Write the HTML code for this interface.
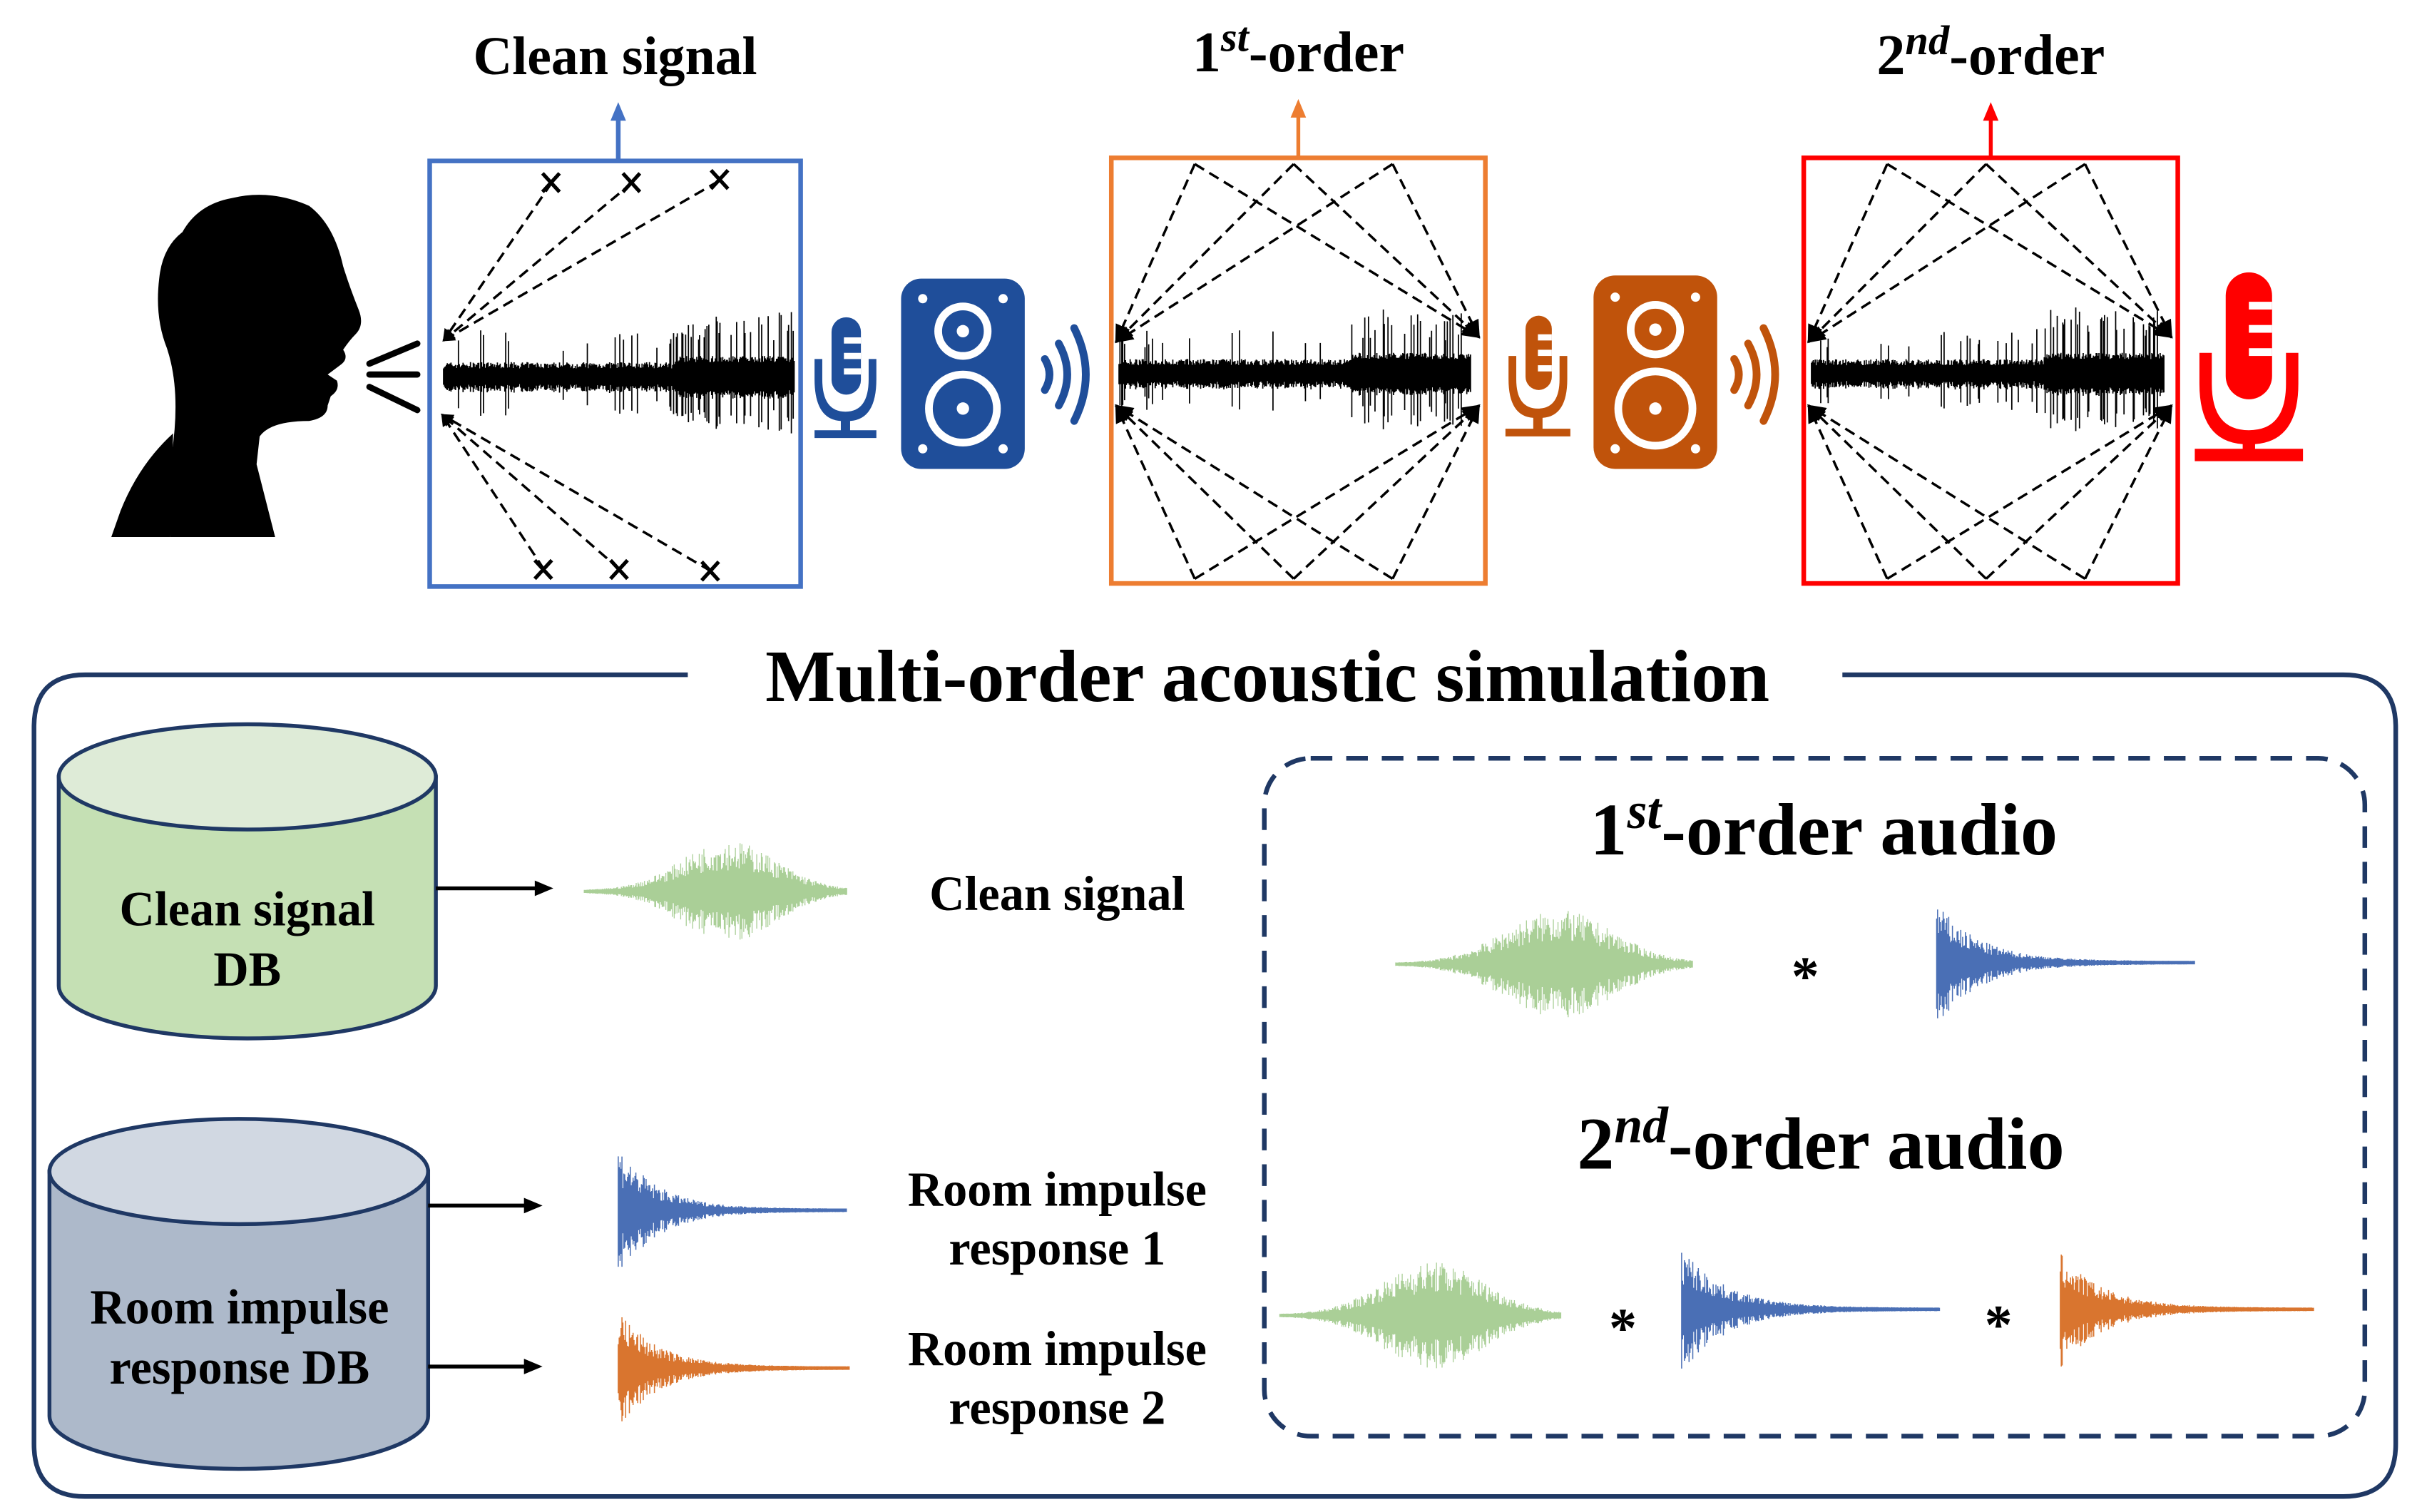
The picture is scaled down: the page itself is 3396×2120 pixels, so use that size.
<!DOCTYPE html>
<html><head><meta charset="utf-8">
<style>
html,body{margin:0;padding:0;background:#fff;}
svg{display:block;}
text{font-family:"Liberation Serif",serif;font-weight:bold;fill:#000;}
</style></head>
<body>
<svg id="s" width="3396" height="2120" viewBox="0 0 1567 977" preserveAspectRatio="none" xmlns="http://www.w3.org/2000/svg">
<defs>
<marker id="ah" markerWidth="8" markerHeight="8" refX="7" refY="4" orient="auto" markerUnits="userSpaceOnUse"><path d="M0,0 L8,4 L0,8 z" fill="#000"/></marker>
<marker id="ahs" markerWidth="12" markerHeight="10" refX="11" refY="5" orient="auto" markerUnits="userSpaceOnUse"><path d="M0,0 L12,5 L0,10 z" fill="#000"/></marker>
</defs>
<rect width="1567" height="977" fill="#fff"/>

<!-- titles -->
<text x="398" y="48" font-size="35" text-anchor="middle">Clean signal</text>
<text x="840" y="46" font-size="37" text-anchor="middle">1<tspan font-style="italic" font-size="27" dy="-13">st</tspan><tspan dy="13">-order</tspan></text>
<text x="1288" y="48" font-size="37" text-anchor="middle">2<tspan font-style="italic" font-size="27" dy="-13">nd</tspan><tspan dy="13">-order</tspan></text>

<!-- up arrows -->
<line x1="400" y1="104" x2="400" y2="76" stroke="#4472C4" stroke-width="3"/><path d="M395,78 L400,66 L405,78 z" fill="#4472C4"/>
<line x1="840" y1="102" x2="840" y2="74" stroke="#ED7D31" stroke-width="2.5"/><path d="M835,76 L840,64 L845,76 z" fill="#ED7D31"/>
<line x1="1288" y1="102" x2="1288" y2="76" stroke="#FF0000" stroke-width="2.5"/><path d="M1283,78 L1288,66 L1293,78 z" fill="#FF0000"/>

<!-- head -->
<path d="M110,347 L178,347 L166,300 L168,282 Q175,272 200,272 Q212,270 212,262 L214,256 Q220,252 218,246 L212,242 L220,236 Q226,232 222,226 Q226,220 230,216 Q236,210 232,200 Q226,185 222,172 Q216,145 200,133 Q175,122 150,128 Q128,132 118,150 Q105,160 103,180 Q100,205 108,225 Q118,255 110,300 Z" fill="#000"/>
<path d="M72,347 L110,347 L112,280 Q90,300 78,330 Z" fill="#000"/>
<g stroke="#000" stroke-width="4" stroke-linecap="round">
<line x1="239" y1="235" x2="270" y2="222"/>
<line x1="239" y1="242" x2="270" y2="242"/>
<line x1="239" y1="250" x2="270" y2="265"/>
</g>

<!-- boxes -->
<rect x="278" y="104" width="240" height="275" fill="none" stroke="#4472C4" stroke-width="3"/>
<rect x="719" y="102" width="242" height="275" fill="none" stroke="#ED7D31" stroke-width="3"/>
<rect x="1167" y="102" width="242" height="275" fill="none" stroke="#FF0000" stroke-width="3"/>

<g id="waves"></g>

<!-- blue box dashed -->
<g stroke="#000" stroke-width="1.6" stroke-dasharray="7,4" fill="none">
<line x1="357" y1="118" x2="287" y2="220" marker-end="url(#ah)"/>
<line x1="409" y1="118" x2="287" y2="220" marker-end="url(#ah)"/>
<line x1="465" y1="117" x2="287" y2="220" marker-end="url(#ah)"/>
<line x1="352" y1="368" x2="286" y2="268" marker-end="url(#ah)"/>
<line x1="401" y1="368" x2="286" y2="268" marker-end="url(#ah)"/>
<line x1="460" y1="369" x2="286" y2="268" marker-end="url(#ah)"/>
</g>
<g stroke="#000" stroke-width="2.4" fill="none">
<path d="M351,112 l11,12 M362,112 l-11,12 M403,112 l11,12 M414,112 l-11,12 M460,110 l11,12 M471,110 l-11,12"/>
<path d="M346,362 l11,12 M357,362 l-11,12 M395,362 l11,12 M406,362 l-11,12 M454,363 l11,12 M465,363 l-11,12"/>
</g>
<g id="fans" stroke="#000" stroke-width="1.6" stroke-dasharray="7,4" fill="none"></g>

<!-- blue mic & speaker -->
<g fill="#1F4E9A" stroke="none">
<rect x="538" y="205" width="19" height="50" rx="9.5"/>
<path d="M527,232 L532,232 L532,245 Q532,266 547,266 Q562,266 562,245 L562,232 L567,232 L567,245 Q567,271 550,272 L550,278 L567,278 L567,283 L527,283 L527,278 L544,278 L544,272 Q527,271 527,245 Z"/>
<rect x="583" y="180" width="80" height="123" rx="13"/>
</g>
<g fill="#fff"><rect x="546" y="218" width="11" height="4"/><rect x="546" y="228" width="11" height="4"/><rect x="546" y="238" width="11" height="4"/></g>
<g fill="none" stroke="#fff" stroke-width="5"><circle cx="623" cy="214" r="16"/><circle cx="623" cy="264" r="22"/></g>
<g fill="#fff"><circle cx="623" cy="214" r="4"/><circle cx="623" cy="264" r="4"/><circle cx="597" cy="193" r="3"/><circle cx="649" cy="193" r="3"/><circle cx="597" cy="290" r="3"/><circle cx="649" cy="290" r="3"/></g>
<g fill="none" stroke="#1F4E9A" stroke-width="5" stroke-linecap="round">
<path d="M676,232 Q682,242 676,252"/><path d="M685,222 Q696,242 685,262"/><path d="M695,212 Q710,242 695,272"/>
</g>

<!-- orange mic & speaker -->
<g fill="#C0530B">
<rect x="987" y="204" width="17" height="48" rx="8.5"/>
<path d="M976,230 L981,230 L981,245 Q981,264 995,264 Q1009,264 1009,245 L1009,230 L1014,230 L1014,245 Q1014,269 998,270 L998,277 L1016,277 L1016,282 L974,282 L974,277 L992,277 L992,270 Q976,269 976,245 Z"/>
<rect x="1031" y="178" width="80" height="125" rx="14"/>
</g>
<g fill="#fff"><rect x="995" y="216" width="9" height="4"/><rect x="995" y="226" width="9" height="4"/><rect x="995" y="236" width="9" height="4"/></g>
<g fill="none" stroke="#fff" stroke-width="5"><circle cx="1071" cy="213" r="16"/><circle cx="1071" cy="264" r="24"/></g>
<g fill="#fff"><circle cx="1071" cy="213" r="4"/><circle cx="1071" cy="264" r="4"/><circle cx="1045" cy="192" r="3"/><circle cx="1097" cy="192" r="3"/><circle cx="1045" cy="290" r="3"/><circle cx="1097" cy="290" r="3"/></g>
<g fill="none" stroke="#C0530B" stroke-width="5" stroke-linecap="round">
<path d="M1122,232 Q1128,242 1122,252"/><path d="M1131,222 Q1142,242 1131,262"/><path d="M1141,212 Q1156,242 1141,272"/>
</g>

<!-- red mic -->
<g fill="#FF0000">
<rect x="1440" y="176" width="30" height="82" rx="15"/>
<path d="M1423,228 L1431,228 L1431,248 Q1431,278 1455,278 Q1479,278 1479,248 L1479,228 L1487,228 L1487,248 Q1487,285 1459,287 L1459,290 L1490,290 L1490,298 L1420,298 L1420,290 L1451,290 L1451,287 Q1423,285 1423,248 Z"/>
</g>
<g fill="#fff"><rect x="1455" y="195" width="15" height="5"/><rect x="1455" y="210" width="15" height="5"/><rect x="1455" y="225" width="15" height="5"/></g>

<!-- bottom panel -->
<path d="M445,436 L55,436 Q22,436 22,470 L22,933 Q22,967 55,967 L1516,967 Q1550,967 1550,933 L1550,470 Q1550,436 1516,436 L1192,436" fill="none" stroke="#1F3864" stroke-width="3"/>
<text x="820" y="453" font-size="48" text-anchor="middle">Multi-order acoustic simulation</text>

<!-- green cylinder -->
<path d="M38,502 L38,637 A122,34 0 0 0 282,637 L282,502 Z" fill="#C5E0B4" stroke="#1F3864" stroke-width="2.5"/>
<ellipse cx="160" cy="502" rx="122" ry="34" fill="#DEEBD7" stroke="#1F3864" stroke-width="2.5"/>
<text x="160" y="598" font-size="31.5" text-anchor="middle">Clean signal</text>
<text x="160" y="637" font-size="31.5" text-anchor="middle">DB</text>

<!-- gray cylinder -->
<path d="M32,757 L32,915 A122,34 0 0 0 277,915 L277,757 Z" fill="#ADB9CA" stroke="#1F3864" stroke-width="2.5"/>
<ellipse cx="154.5" cy="757" rx="122.5" ry="34" fill="#D1D8E2" stroke="#1F3864" stroke-width="2.5"/>
<text x="155" y="855" font-size="31.5" text-anchor="middle">Room impulse</text>
<text x="155" y="894" font-size="31.5" text-anchor="middle">response DB</text>

<g stroke="#000" stroke-width="2.5">
<line x1="282" y1="574" x2="350" y2="574"/><line x1="277" y1="779" x2="343" y2="779"/><line x1="277" y1="883" x2="343" y2="883"/>
</g>
<g fill="#000"><path d="M346,569 L358,574 L346,579 z"/><path d="M339,774 L351,779 L339,784 z"/><path d="M339,878 L351,883 L339,888 z"/></g>

<text x="684" y="588" font-size="31.5" text-anchor="middle">Clean signal</text>
<text x="684" y="779" font-size="31.5" text-anchor="middle">Room impulse</text>
<text x="684" y="817" font-size="31.5" text-anchor="middle">response 1</text>
<text x="684" y="882" font-size="31.5" text-anchor="middle">Room impulse</text>
<text x="684" y="920" font-size="31.5" text-anchor="middle">response 2</text>

<rect x="818" y="490" width="712" height="438" rx="30" fill="none" stroke="#1F3864" stroke-width="3" stroke-dasharray="14,9"/>
<text x="1180" y="552" font-size="48" text-anchor="middle">1<tspan font-size="33" font-style="italic" dy="-17">st</tspan><tspan dy="17">-order audio</tspan></text>
<text x="1178" y="755" font-size="48" text-anchor="middle">2<tspan font-size="33" font-style="italic" dy="-17">nd</tspan><tspan dy="17">-order audio</tspan></text>
<text x="1168" y="643" font-size="36" text-anchor="middle">*</text>
<text x="1050" y="870" font-size="36" text-anchor="middle">*</text>
<text x="1293" y="868" font-size="36" text-anchor="middle">*</text>
</svg>
<script>
(function(){
var NS="http://www.w3.org/2000/svg";
var seed=7;function r(){seed=(seed*16807)%2147483647;return seed/2147483647;}
var W=document.getElementById('waves');
function add(d,c,sw,op){var p=document.createElementNS(NS,'path');p.setAttribute('d',d);p.setAttribute('stroke',c);p.setAttribute('stroke-width',sw);p.setAttribute('fill','none');if(op)p.setAttribute('opacity',op);W.appendChild(p);}
function speech(x0,x1,cy){var d='';for(var x=x0;x<=x1;x+=0.6){var t=(x-x0)/(x1-x0);var base=5+4*r();var sp=r()<0.06?10+12*r():0;if(t>0.66)sp=r()<0.15?14+16*r():sp;base+=(t>0.66?4:0);var up=base+sp,dn=base+sp*0.8+2*r();d+='M'+x.toFixed(1)+','+(cy-up).toFixed(1)+'L'+x.toFixed(1)+','+(cy+dn).toFixed(1);}add(d,'#000',0.8);}
speech(287,514,243);speech(724,952,241);speech(1172,1400,241);
function green(x0,x1,cy,A){var d='';var m=(x0+x1)/2+ (x1-x0)*0.05;var s=(x1-x0)/5.5;for(var x=x0;x<=x1;x+=0.6){var e=Math.exp(-Math.pow((x-m)/s,2)/2);var a=A*e*(0.4+0.6*r())+0.8;d+='M'+x.toFixed(1)+','+(cy-a).toFixed(1)+'L'+x.toFixed(1)+','+(cy+a).toFixed(1);}add(d,'#8DBF74',0.6,0.75);}
green(378,548,576,32);green(903,1095,623,34);green(828,1010,850,34);
function rir(x0,x1,cy,A,c){var d='';for(var x=x0;x<=x1;x+=0.6){var t=(x-x0)/(x1-x0);var a=A*Math.exp(-t*6)*(0.35+0.65*r())+1;d+='M'+x.toFixed(1)+','+(cy-a).toFixed(1)+'L'+x.toFixed(1)+','+(cy+a*1.05).toFixed(1);}add(d,c,0.7);}
rir(400,548,782,42,'#4A6FB5');rir(400,550,884,38,'#D9752F');rir(1253,1420,622,38,'#4A6FB5');rir(1088,1255,846,40,'#4A6FB5');rir(1333,1497,846,36,'#D9752F');
var F=document.getElementById('fans');
function ln(x1,y1,x2,y2){var l=document.createElementNS(NS,'line');l.setAttribute('x1',x1);l.setAttribute('y1',y1);l.setAttribute('x2',x2);l.setAttribute('y2',y2);l.setAttribute('marker-end','url(#ahs)');F.appendChild(l);}
[0,448].forEach(function(o){var tops=[773,837,901];tops.forEach(function(tx){ln(tx+o,106,722+o,221);ln(tx+o,106,957+o,218);ln(tx+o,374,722+o,262);ln(tx+o,374,957+o,262);});});
})();
</script>
</body></html>
